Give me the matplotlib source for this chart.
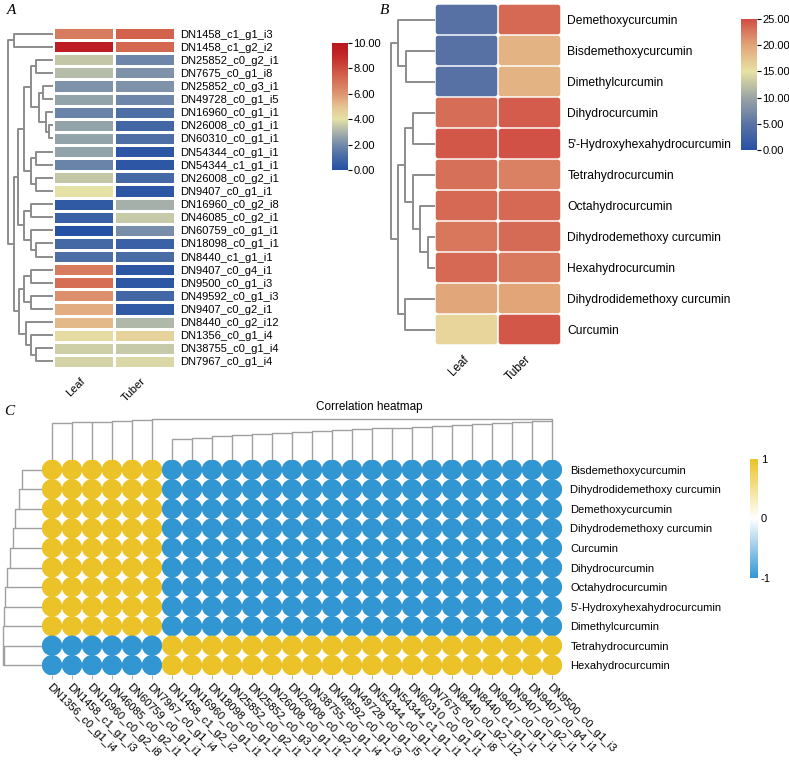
import numpy as np
import matplotlib
matplotlib.use("Agg")
import matplotlib.pyplot as plt
from matplotlib.colors import LinearSegmentedColormap, Normalize
from matplotlib.cm import ScalarMappable
from matplotlib.patches import FancyBboxPatch

plt.rcParams["font.family"] = ["Liberation Sans", "DejaVu Sans"]
plt.rcParams["axes.unicode_minus"] = False

# ---- panel A: gene expression (Leaf / Tuber) ----
a_genes = [
    "DN1458_c1_g1_i3", "DN1458_c1_g2_i2", "DN25852_c0_g2_i1", "DN7675_c0_g1_i8",
    "DN25852_c0_g3_i1", "DN49728_c0_g1_i5", "DN16960_c0_g1_i1", "DN26008_c0_g1_i1",
    "DN60310_c0_g1_i1", "DN54344_c0_g1_i1", "DN54344_c1_g1_i1", "DN26008_c0_g2_i1",
    "DN9407_c0_g1_i1", "DN16960_c0_g2_i8", "DN46085_c0_g2_i1", "DN60759_c0_g1_i1",
    "DN18098_c0_g1_i1", "DN8440_c1_g1_i1", "DN9407_c0_g4_i1", "DN9500_c0_g1_i3",
    "DN49592_c0_g1_i3", "DN9407_c0_g2_i1", "DN8440_c0_g2_i12", "DN1356_c0_g1_i4",
    "DN38755_c0_g1_i4", "DN7967_c0_g1_i4",
]
a_leaf = [6.7, 9.6, 3.4, 3.2, 2.2, 2.6, 1.8, 2.6, 2.6, 2.6, 1.8, 3.4, 4.0,
          0.4, 0.7, 0.1, 1.0, 1.2, 6.7, 7.1, 6.2, 5.5, 5.2, 4.2, 3.6, 3.7]
a_tuber = [7.4, 7.3, 1.9, 2.2, 2.2, 1.9, 1.2, 0.9, 1.2, 0.3, 0.3, 1.0, 0.3,
           2.9, 3.5, 2.1, 0.7, 1.1, 0.3, 0.3, 0.9, 0.4, 3.1, 4.5, 3.5, 3.8]
# (child, child, height) merges, new node ids continue after the leaves
a_links = [
    (7, 8, 4), (6, 26, 7), (4, 5, 10), (28, 27, 14), (2, 3, 17), (30, 29, 22),
    (9, 10, 17), (11, 12, 17), (32, 33, 22), (31, 34, 29), (13, 14, 22),
    (16, 17, 17), (15, 37, 22), (36, 38, 29), (35, 39, 35), (18, 19, 22),
    (20, 21, 22), (41, 42, 29), (24, 25, 17), (23, 44, 22), (22, 45, 27),
    (43, 46, 34), (40, 47, 39), (0, 1, 39), (49, 48, 45),
]

# ---- panel B: curcuminoid content ----
compounds = [
    "Demethoxycurcumin", "Bisdemethoxycurcumin", "Dimethylcurcumin",
    "Dihydrocurcumin", "5'-Hydroxyhexahydrocurcumin", "Tetrahydrocurcumin",
    "Octahydrocurcumin", "Dihydrodemethoxy curcumin", "Hexahydrocurcumin",
    "Dihydrodidemethoxy curcumin", "Curcumin",
]
b_leaf = [4.7, 4.7, 4.7, 23.2, 24.5, 23.0, 23.4, 22.6, 23.4, 19.8, 16.0]
b_tuber = [23.4, 18.8, 18.8, 24.2, 24.8, 22.0, 23.4, 23.3, 22.4, 20.0, 24.5]
b_links = [
    (7, 8, 7), (6, 11, 15), (5, 12, 22), (3, 4, 22), (14, 13, 30),
    (9, 10, 30), (15, 16, 37), (1, 2, 29), (0, 18, 37), (19, 17, 44),
]

# ---- panel C: correlation heatmap ----
c_rows = [
    "Bisdemethoxycurcumin", "Dihydrodidemethoxy curcumin", "Demethoxycurcumin",
    "Dihydrodemethoxy curcumin", "Curcumin", "Dihydrocurcumin",
    "Octahydrocurcumin", "5'-Hydroxyhexahydrocurcumin", "Dimethylcurcumin",
    "Tetrahydrocurcumin", "Hexahydrocurcumin",
]
c_cols = [
    "DN1356_c0_g1_i4", "DN1458_c1_g1_i3", "DN16960_c0_g2_i8", "DN46085_c0_g2_i1",
    "DN60759_c0_g1_i1", "DN7967_c0_g1_i4", "DN1458_c1_g2_i2", "DN16960_c0_g1_i1",
    "DN18098_c0_g1_i1", "DN25852_c0_g2_i1", "DN25852_c0_g3_i1", "DN26008_c0_g1_i1",
    "DN26008_c0_g2_i1", "DN38755_c0_g1_i4", "DN49592_c0_g1_i3", "DN49728_c0_g1_i5",
    "DN54344_c0_g1_i1", "DN54344_c1_g1_i1", "DN60310_c0_g1_i1", "DN7675_c0_g1_i8",
    "DN8440_c0_g2_i12", "DN8440_c1_g1_i1", "DN9407_c0_g1_i1", "DN9407_c0_g2_i1",
    "DN9407_c0_g4_i1", "DN9500_c0_g1_i3",
]
c_row_sign = [1, 1, 1, 1, 1, 1, 1, 1, 1, -1, -1]
c_col_sign = [1] * 6 + [-1] * 20
c_col_steps1 = [37, 37.7, 38.3, 39.3, 40]
c_col_steps2 = [20.7, 21.7, 24, 25, 26, 27.3, 28.3, 29.3, 30, 31, 32, 32.5,
                33.3, 34.3, 35, 36, 37.3, 38.3, 39.3]
c_col_top = 41.5
c_row_steps = [20, 22.7, 27, 29.3, 32, 34.7, 37, 38.5]
c_row_pair = 38
c_row_top = 39.5

W, H = 789, 763
fig = plt.figure(figsize=(W / 100, H / 100), dpi=100)


def px_axes(left, top, width, height):
    return fig.add_axes([left / W, 1 - (top + height) / H, width / W, height / H])


def ladder_links(start, first_leaf, steps, nid):
    # each step adds the next leaf to the running cluster
    links = []
    prev = start
    for k, h in enumerate(steps):
        links.append((prev, first_leaf + k, h))
        prev = nid
        nid += 1
    return links, prev, nid


def draw_dendrogram(ax, n, links, leaves_on="y", rule="mean", offset=0.5,
                    color="#8c8c8c", lw=1.4):
    pos = [i + offset for i in range(n)]
    hgt = [0.0] * n
    for a, b, h in links:
        pa, pb = pos[a], pos[b]
        hs = [hgt[a], h, h, hgt[b]]
        ps = [pa, pa, pb, pb]
        if leaves_on == "y":
            ax.plot(hs, ps, color=color, lw=lw, solid_capstyle="butt")
        else:
            ax.plot(ps, hs, color=color, lw=lw, solid_capstyle="butt")
        pos.append((pa + pb) / 2 if rule == "mean" else pb)
        hgt.append(h)
    ax.axis("off")


cmap_a = LinearSegmentedColormap.from_list("a", [
    (0.0, (35/255, 80/255, 165/255)), (0.1, (70/255, 105/255, 165/255)),
    (0.2, (115/255, 138/255, 170/255)), (0.3, (170/255, 180/255, 170/255)),
    (0.4, (230/255, 225/255, 165/255)), (0.5, (230/255, 195/255, 145/255)),
    (0.6, (222/255, 150/255, 112/255)), (0.75, (210/255, 95/255, 75/255)),
    (0.9, (195/255, 40/255, 40/255)), (1.0, (185/255, 20/255, 30/255)),
])
cmap_b = LinearSegmentedColormap.from_list("b", [
    (0.0, (40/255, 80/255, 165/255)), (0.2, (90/255, 115/255, 165/255)),
    (0.4, (155/255, 165/255, 165/255)), (0.6, (232/255, 225/255, 165/255)),
    (0.8, (225/255, 165/255, 120/255)), (1.0, (208/255, 78/255, 68/255)),
])
cmap_c = LinearSegmentedColormap.from_list("c", [
    (0.0, (50/255, 150/255, 210/255)), (0.5, (1, 1, 1)),
    (1.0, (235/255, 195/255, 40/255)),
])

# ---------------- panel A ----------------
ax_a = px_axes(53, 27, 122, 341)
vals_a = np.column_stack([a_leaf, a_tuber])
mesh_a = ax_a.pcolormesh(vals_a, cmap=cmap_a, vmin=0, vmax=10,
                         edgecolors="white", linewidth=0.8)
ax_a.set_xlim(0, 2)
ax_a.set_ylim(len(a_genes), 0)
ax_a.yaxis.tick_right()
ax_a.set_yticks(np.arange(len(a_genes)) + 0.5)
ax_a.set_yticklabels(a_genes, fontsize=8)
ax_a.set_xticks([0.5, 1.5])
ax_a.set_xticklabels(["Leaf", "Tuber"], fontsize=8, rotation=45,
                     ha="right", va="center", rotation_mode="anchor")
ax_a.tick_params(length=0, pad=3.5)
ax_a.tick_params(axis="x", pad=8)
for s in ax_a.spines.values():
    s.set_visible(False)

ax_da = px_axes(0, 27, 53, 341)
draw_dendrogram(ax_da, len(a_genes), a_links)
ax_da.set_xlim(53, 0)
ax_da.set_ylim(len(a_genes), 0)

cax_a = px_axes(332, 43, 16, 127)
cb_a = fig.colorbar(mesh_a, cax=cax_a, ticks=np.arange(0, 11, 2), format="%.2f")
cb_a.outline.set_visible(False)
cax_a.tick_params(labelsize=8, length=3, width=0.8, pad=1)

# ---------------- panel B ----------------
ax_b = px_axes(435, 4, 126, 341)
vals_b = np.column_stack([b_leaf, b_tuber])
norm_b = Normalize(0, 25)
gx, gy = 0.012, 0.024
for i in range(len(compounds)):
    for j in range(2):
        ax_b.add_patch(FancyBboxPatch(
            (j + gx, i + gy), 1 - 2 * gx, 1 - 2 * gy,
            boxstyle="round,pad=0,rounding_size=0.04", mutation_aspect=2.0,
            facecolor=cmap_b(norm_b(vals_b[i, j])), edgecolor="none"))
ax_b.set_xlim(0, 2)
ax_b.set_ylim(len(compounds), 0)
ax_b.yaxis.tick_right()
ax_b.set_yticks(np.arange(len(compounds)) + 0.5)
ax_b.set_yticklabels(compounds, fontsize=8.7)
ax_b.set_xticks([0.5, 1.5])
ax_b.set_xticklabels(["Leaf", "Tuber"], fontsize=8.5, rotation=45,
                     ha="right", va="center", rotation_mode="anchor")
ax_b.tick_params(length=0, pad=4.5)
ax_b.tick_params(axis="x", pad=9)
for s in ax_b.spines.values():
    s.set_visible(False)

ax_db = px_axes(385, 4, 50, 341)
draw_dendrogram(ax_db, len(compounds), b_links)
ax_db.set_xlim(50, 0)
ax_db.set_ylim(len(compounds), 0)

cax_b = px_axes(741, 19, 16, 131)
cb_b = fig.colorbar(ScalarMappable(norm=norm_b, cmap=cmap_b), cax=cax_b,
                    ticks=np.arange(0, 26, 5), format="%.2f")
cb_b.outline.set_visible(False)
cax_b.tick_params(labelsize=8, length=3, width=0.8, pad=1)

# ---------------- panel C ----------------
corr = np.outer(c_row_sign, c_col_sign)
ax_c = px_axes(42, 460, 520, 215)
xx, yy = np.meshgrid(np.arange(len(c_cols)), np.arange(len(c_rows)))
ax_c.scatter(xx.ravel(), yy.ravel(), c=corr.ravel(), cmap=cmap_c, vmin=-1,
             vmax=1, s=215, linewidths=0)
ax_c.set_xlim(-0.5, len(c_cols) - 0.5)
ax_c.set_ylim(len(c_rows) - 0.5, -0.5)
ax_c.yaxis.tick_right()
ax_c.set_yticks(np.arange(len(c_rows)))
ax_c.set_yticklabels(c_rows, fontsize=8)
ax_c.tick_params(axis="y", length=0, pad=6)
ax_c.set_xticks(np.arange(len(c_cols)))
ax_c.set_xticklabels(c_cols, fontsize=8, rotation=-45, ha="left", va="top",
                     rotation_mode="anchor")
ax_c.tick_params(axis="x", length=3, width=0.8, color="#b0b0b0", pad=2)
for s in ax_c.spines.values():
    s.set_visible(False)

# column tree: two ladders joined at the top
n_cols = len(c_cols)
links1, top1, nid = ladder_links(0, 1, c_col_steps1, n_cols)
links2, top2, nid = ladder_links(6, 7, c_col_steps2, nid)
links_cols = links1 + links2 + [(top1, top2, c_col_top)]

ax_dc = px_axes(42, 415, 520, 45)
draw_dendrogram(ax_dc, n_cols, links_cols, leaves_on="x", rule="last",
                offset=0, color="#a0a0a0", lw=1.0)
ax_dc.set_xlim(-0.5, n_cols - 0.5)
ax_dc.set_ylim(0, 45)

# row tree: ladder of the first nine rows plus one pair
n_rows = len(c_rows)
links_rows, top_r, nid = ladder_links(0, 1, c_row_steps, n_rows)
links_rows.append((9, 10, c_row_pair))
links_rows.append((top_r, nid, c_row_top))

ax_dr = px_axes(0, 460, 42, 215)
draw_dendrogram(ax_dr, n_rows, links_rows, leaves_on="y", rule="last",
                offset=0, color="#a0a0a0", lw=1.0)
ax_dr.set_xlim(42, 0)
ax_dr.set_ylim(n_rows - 0.5, -0.5)

cax_c = px_axes(750, 459, 8, 119)
cb_c = fig.colorbar(ScalarMappable(norm=Normalize(-1, 1), cmap=cmap_c),
                    cax=cax_c, ticks=[-1, 0, 1], format="%d")
cb_c.outline.set_visible(False)
cax_c.tick_params(labelsize=8, length=0, pad=2)

fig.text(369 / W, 1 - 407 / H, "Correlation heatmap", ha="center",
         va="center", fontsize=8.5)

for letter, x, y in [("A", 12, 10), ("B", 385, 10), ("C", 9, 411)]:
    fig.text(x / W, 1 - y / H, letter, ha="center", va="center",
             fontsize=11, style="italic", family="Liberation Serif")

fig.savefig("out.png", dpi=100)
